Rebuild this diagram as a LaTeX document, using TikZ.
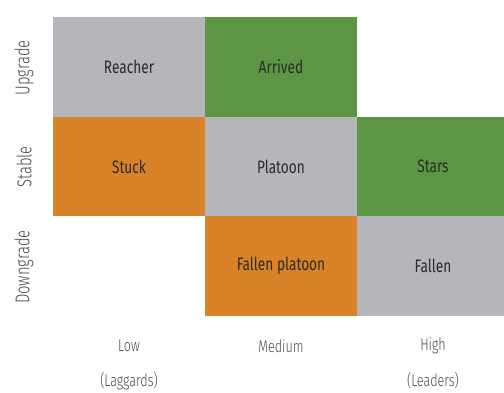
\documentclass[tikz,border=0pt]{standalone}
\usepackage{fontspec}
\setmainfont[FakeStretch=0.76]{Fira Sans}
\newfontfamily\axisfont[FakeStretch=0.74]{Fira Sans Light}
\definecolor{cgray}{HTML}{B5B6B9}
\definecolor{cgreen}{HTML}{5C9644}
\definecolor{corange}{HTML}{D98328}
\definecolor{ctext}{HTML}{2B2B2B}
\definecolor{caxis}{HTML}{4A4A4A}
\begin{document}
\begin{tikzpicture}[x=1pt,y=-1pt,
  cell/.style={minimum width=152pt,minimum height=99.5pt,inner sep=0pt,outer sep=0pt,text=ctext,font=\fontsize{18}{20}\selectfont},
  axl/.style={text=caxis,font=\axisfont\fontsize{20}{22}\selectfont,inner sep=0pt},
  botl/.style={text=caxis,font=\axisfont\fontsize{17}{19}\selectfont,inner sep=0pt}]
\useasboundingbox (0,0) rectangle (504,392);
\node[cell,fill=cgray] (reacher) at (129,67) {Reacher};
\node[cell,fill=cgreen] (arrived) at (281,67) {Arrived};
\node[cell,fill=corange] (stuck) at (129,166.5) {Stuck};
\node[cell,fill=cgray] (platoon) at (281,166.5) {Platoon};
\node[cell,fill=cgreen] (stars) at (433,166.5) {Stars};
\node[cell,fill=corange] (fallenp) at (281,266) {Fallen platoon};
\node[cell,fill=cgray] (fallen) at (433,266) {Fallen};
\node[axl,rotate=90] (up) at (24,68) {Upgrade};
\node[axl,rotate=90] (st) at (24,167) {Stable};
\node[axl,rotate=90] (down) at (24,267) {Downgrade};
\node[botl] (low) at (129,346) {Low};
\node[botl] (lag) at (129,381) {(Laggards)};
\node[botl] (med) at (281,346) {Medium};
\node[botl] (high) at (433,346) {High};
\node[botl] (lead) at (433,381) {(Leaders)};
\end{tikzpicture}
\end{document}
